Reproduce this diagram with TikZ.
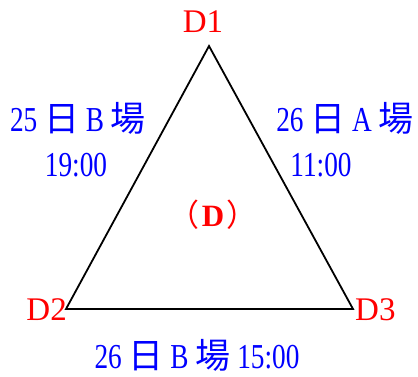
\documentclass[tikz,border=0pt]{standalone}
\usepackage{fontspec}
\setmainfont{Liberation Serif}
\newfontfamily\cjk{Noto Sans CJK TC}
\newfontfamily\narrowrm[FakeStretch=0.78]{Liberation Serif}
\newcommand{\hz}[1]{{\cjk #1}}
\begin{document}
\begin{tikzpicture}[x=1pt,y=-1pt,
	vertex/.style={text=red,inner sep=0pt,font=\fontsize{33}{33}\selectfont},
	match/.style={text=blue,inner sep=0pt,font=\narrowrm\fontsize{35}{35}\selectfont}]
	\useasboundingbox (0,0) rectangle (418,376);
	\coordinate (d1) at (209,46);
	\coordinate (d2) at (66,309);
	\coordinate (d3) at (353,309);
	\draw[line width=1.8pt,line join=miter] (d1) -- (d2) -- (d3) -- cycle;
	\node[vertex] (l1) at (203,22) {D1};
	\node[vertex,anchor=east] (l2) at (67,310) {D2};
	\node[vertex,anchor=west] (l3) at (355,310) {D3};
	\node[vertex,font=\fontsize{31}{31}\selectfont\bfseries] (grp) at (213,215)
		{\hz{\mdseries（}\kern2pt D\kern2pt\hz{\mdseries）}};
	\node[match] (m12) at (78,118) {25 \hz{日} B \hz{場}};
	\node[match] (t12) at (76,165) {19:00};
	\node[match] (m13) at (345,118) {26 \hz{日} A \hz{場}};
	\node[match] (t13) at (321,165) {11:00};
	\node[match] (m23) at (197,355) {26 \hz{日} B \hz{場} 15:00};
\end{tikzpicture}
\end{document}
